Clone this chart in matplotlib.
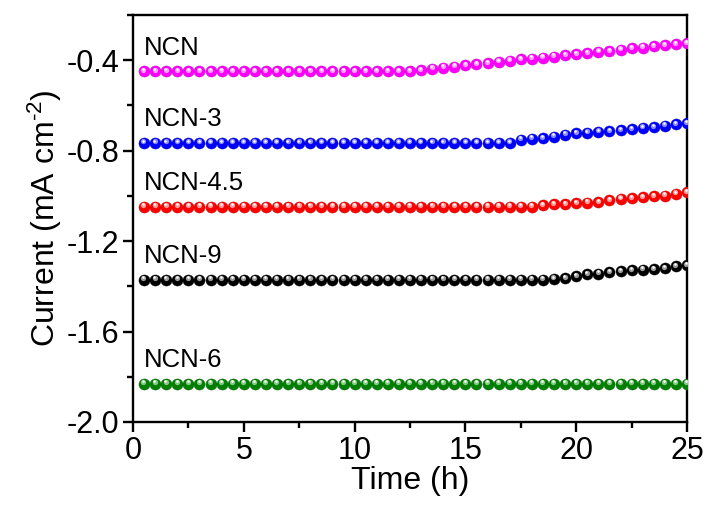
import numpy as np
import matplotlib
matplotlib.use('Agg')
import matplotlib.pyplot as plt
from matplotlib.transforms import ScaledTranslation
from matplotlib.ticker import MultipleLocator

plt.rcParams['font.family'] = ['Liberation Sans', 'DejaVu Sans']
plt.rcParams['mathtext.fontset'] = 'custom'
plt.rcParams['mathtext.rm'] = 'Liberation Sans'
plt.rcParams['mathtext.default'] = 'regular'

# stability test, sampled every 0.5 h
time_h = np.arange(1, 51) * 0.5

ncn = [-0.449] * 25 + [-0.444, -0.437, -0.433, -0.428, -0.422, -0.418, -0.413, -0.407,
                       -0.403, -0.396, -0.393, -0.388, -0.384, -0.379, -0.373, -0.369,
                       -0.363, -0.359, -0.354, -0.348, -0.344, -0.339, -0.333, -0.329, -0.324]
ncn_3 = [-0.765] * 34 + [-0.751, -0.747, -0.744, -0.738, -0.729, -0.724, -0.721, -0.717,
                         -0.714, -0.710, -0.704, -0.699, -0.695, -0.689, -0.683, -0.679]
ncn_45 = [-1.047] * 35 + [-1.047, -1.040, -1.037, -1.036, -1.033, -1.030, -1.029, -1.018,
                          -1.013, -1.010, -1.006, -1.002, -0.999, -0.991, -0.984]
ncn_9 = [-1.370] * 37 + [-1.367, -1.363, -1.354, -1.347, -1.344, -1.338, -1.333, -1.330,
                         -1.326, -1.323, -1.319, -1.311, -1.307]
ncn_6 = [-1.830] * 50

names = ['NCN', 'NCN-3', 'NCN-4.5', 'NCN-9', 'NCN-6']
series = [ncn, ncn_3, ncn_45, ncn_9, ncn_6]
colors = ['#FF00FF', '#0000FF', '#FF0000', '#000000', '#008000']
shine = ['#FF9CFF', '#8C8CFF', '#FF9C9C', '#9C9C9C', '#8CC88C']

fig = plt.figure(figsize=(7.1, 5.05), dpi=100)
ax = fig.add_axes([0.1873, 0.1644, 0.7803, 0.8059])

# shifted copies of the markers give each ball a highlight
hi1 = ax.transData + ScaledTranslation(-0.6 / 100, 1.4 / 100, fig.dpi_scale_trans)
hi2 = ax.transData + ScaledTranslation(-0.8 / 100, 2.2 / 100, fig.dpi_scale_trans)

for name, y, c, s in zip(names, series, colors, shine):
    y = np.array(y)
    edge = tuple(0.75 * np.array(matplotlib.colors.to_rgb(c)))
    ax.plot(time_h, y, 'o', ms=8.0, color=c, mec=edge, mew=0.3, zorder=3)
    ax.plot(time_h, y, 'o', ms=3.8, color=s, mew=0, transform=hi1, zorder=4)
    ax.plot(time_h, y, 'o', ms=1.8, color='white', mew=0, transform=hi2, zorder=5)
    ax.annotate(name, (0.5, y[0]), xytext=(0, 12), textcoords='offset points',
                fontsize=18.5, ha='left', va='baseline')

ax.set_xlim(0, 25)
ax.set_ylim(-2.0, -0.2)
ax.xaxis.set_major_locator(MultipleLocator(5))
ax.xaxis.set_minor_locator(MultipleLocator(2.5))
ax.yaxis.set_minor_locator(MultipleLocator(0.2))
ax.set_yticks([-2.0, -1.6, -1.2, -0.8, -0.4])
ax.set_yticklabels(['-2.0', '-1.6', '-1.2', '-0.8', '-0.4'])

for sp in ax.spines.values():
    sp.set_linewidth(1.7)
ax.tick_params(which='major', direction='out', length=7, width=1.7, labelsize=22, pad=3)
ax.tick_params(which='minor', direction='out', length=4.5, width=1.7)
ax.tick_params(top=False, right=False, which='both')

ax.set_xlabel('Time (h)', fontsize=23, labelpad=0)
ax.set_ylabel(r'Current (mA cm$^{\text{-2}}$)', fontsize=23, labelpad=2)

fig.savefig('out.png', dpi=100)
